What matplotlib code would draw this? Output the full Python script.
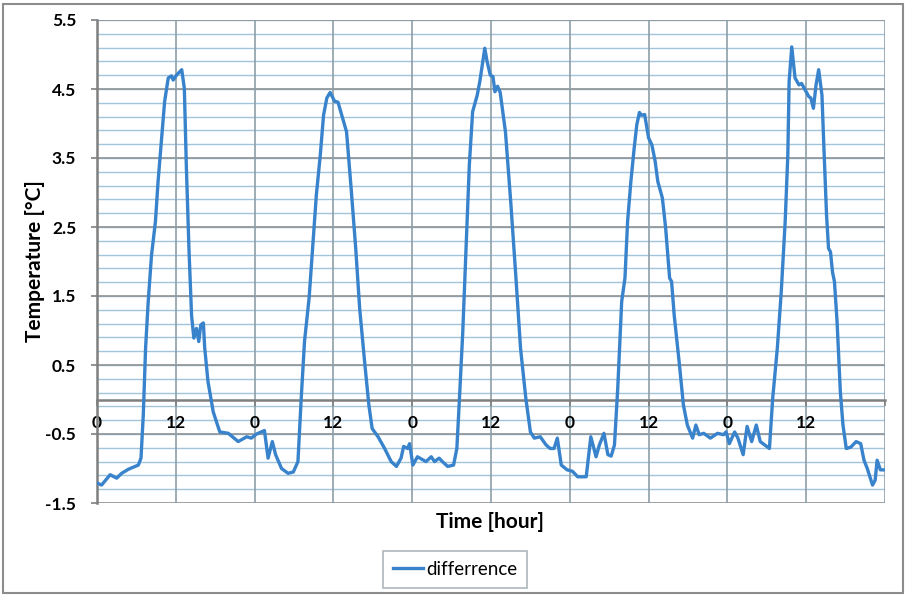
import numpy as np
import matplotlib
matplotlib.use("Agg")
import matplotlib.pyplot as plt
from matplotlib.patches import Rectangle

plt.rcParams['font.family'] = ['Lato', 'DejaVu Sans']

# hours since start
hours = [0.0, 0.7, 2.0, 3.0, 3.75, 4.8, 6.3, 6.7, 7.05, 7.4, 7.8, 8.3, 8.9, 9.3, 9.8,
         10.3, 10.85, 11.35, 11.6, 12.1, 12.9, 13.3, 13.6, 14.0, 14.4, 14.75, 15.15,
         15.5, 15.8, 16.2, 16.4, 16.9, 17.7, 18.7, 20.0, 21.5, 22.8, 23.5, 24.3, 25.5,
         26.05, 26.7, 27.2, 28.1, 29.1, 29.9, 30.6, 31.1, 31.6, 32.3, 32.9, 33.4, 34.0,
         34.5, 35.0, 35.5, 36.2, 36.7, 37.4, 38.0, 38.7, 39.4, 40.0, 40.8, 41.4, 41.9,
         42.8, 43.8, 44.8, 45.6, 46.3, 46.7, 47.3, 47.6, 48.1, 48.8, 50.1, 50.9, 51.4,
         52.1, 52.6, 53.4, 54.3, 54.8, 55.2, 55.7, 56.2, 56.7, 57.2, 57.9, 58.3, 58.7,
         59.05, 59.4, 59.9, 60.3, 60.6, 61.0, 61.4, 62.2, 63.0, 63.8, 64.5, 65.3, 66.0,
         66.6, 67.5, 68.4, 69.0, 69.6, 70.1, 70.7, 71.6, 72.4, 73.2, 74.5, 75.2, 76.0,
         76.5, 77.2, 77.8, 78.3, 78.8, 79.3, 79.9, 80.4, 80.8, 81.3, 81.8, 82.2, 82.6,
         82.9, 83.4, 84.0, 84.5, 85.0, 85.4, 86.1, 86.6, 87.2, 87.5, 87.9, 88.7, 89.3,
         89.9, 90.7, 91.2, 91.7, 92.4, 93.4, 94.5, 95.4, 95.8, 96.3, 97.1, 97.6, 98.4,
         99.0, 99.7, 100.4, 101.0, 101.7, 102.4, 102.9, 103.6, 104.2, 104.8, 105.2,
         105.4, 105.8, 106.3, 106.9, 107.3, 108.4, 108.7, 109.1, 109.5, 109.9, 110.4,
         110.7, 111.1, 111.4, 111.7, 112.0, 112.3, 112.7, 113.2, 113.6, 114.1, 114.8,
         115.6, 116.3, 116.8, 117.3, 118.1, 118.5, 118.8, 119.3, 119.8]
difference = [-1.21, -1.24, -1.09, -1.14, -1.07, -1.01, -0.95, -0.85, -0.22, 0.75, 1.42,
              2.09, 2.58, 3.16, 3.74, 4.32, 4.66, 4.69, 4.63, 4.70, 4.78, 4.51, 3.40,
              2.19, 1.22, 0.89, 1.03, 0.84, 1.08, 1.11, 0.75, 0.26, -0.18, -0.47, -0.49,
              -0.61, -0.54, -0.56, -0.50, -0.45, -0.85, -0.61, -0.80, -1.00, -1.07, -1.05,
              -0.90, 0.02, 0.84, 1.47, 2.29, 2.96, 3.54, 4.12, 4.37, 4.45, 4.32, 4.31,
              4.08, 3.88, 3.06, 2.19, 1.32, 0.50, -0.08, -0.42, -0.54, -0.71, -0.90,
              -0.97, -0.85, -0.68, -0.71, -0.64, -0.95, -0.83, -0.90, -0.83, -0.90, -0.85,
              -0.90, -0.97, -0.95, -0.71, 0.02, 0.98, 2.19, 3.40, 4.17, 4.41, 4.61, 4.87,
              5.09, 4.90, 4.70, 4.68, 4.46, 4.54, 4.45, 3.88, 2.87, 1.76, 0.74, 0.02,
              -0.47, -0.56, -0.54, -0.66, -0.71, -0.71, -0.56, -0.95, -1.02, -1.04, -1.12,
              -1.12, -0.54, -0.83, -0.66, -0.49, -0.80, -0.82, -0.66, 0.16, 1.42, 1.76,
              2.58, 3.16, 3.64, 3.98, 4.16, 4.12, 4.13, 3.79, 3.69, 3.45, 3.16, 2.92,
              2.48, 1.76, 1.71, 1.22, 0.50, -0.08, -0.37, -0.56, -0.37, -0.51, -0.49,
              -0.56, -0.49, -0.51, -0.47, -0.64, -0.47, -0.56, -0.80, -0.39, -0.61, -0.37,
              -0.61, -0.66, -0.71, 0.02, 0.74, 1.56, 2.58, 3.54, 4.61, 5.11, 4.66, 4.56,
              4.58, 4.39, 4.37, 4.22, 4.56, 4.78, 4.41, 3.64, 2.67, 2.19, 2.14, 1.85,
              1.71, 1.13, 0.11, -0.37, -0.71, -0.69, -0.61, -0.64, -0.88, -1.00, -1.24,
              -1.17, -0.88, -1.02, -1.02]

x_ticks = np.arange(0, 121, 12)
x_labels = ['0', '12'] * 5 + ['']
y_major = np.arange(-1.5, 5.51, 1.0)
y_minor = np.arange(-1.5, 5.51, 0.2)

fig = plt.figure(figsize=(9.08, 5.97), dpi=100)
ax = fig.add_axes([97 / 908, 1 - 503 / 597, (885 - 97) / 908, (503 - 20) / 597])

# spine position first: moving it resets the tick styling
ax.spines['bottom'].set_position(('data', 0))
ax.spines['bottom'].set_color('#7f7f7f')
ax.spines['bottom'].set_linewidth(1.8)
ax.spines['left'].set_color('#7f7f7f')
ax.spines['left'].set_linewidth(1.8)
ax.spines['top'].set_visible(False)
ax.spines['right'].set_visible(False)

# grid lines (Excel style)
for v in y_minor:
    ax.axhline(v, color='#a3c5dc', lw=1.0, zorder=0)
for v in y_major:
    ax.axhline(v, color='#8f9396', lw=1.2, zorder=0.5)
for v in x_ticks:
    ax.axvline(v, color='#8d9ea8', lw=1.2, zorder=0.5)

ax.plot(hours, difference, color='#3883cc', lw=2.4, label='differrence', zorder=3)

ax.set_xlim(0, 120)
ax.set_ylim(-1.5, 5.5)
ax.set_yticks(y_major)
ax.set_yticklabels([f'{v:.1f}' for v in y_major])
ax.set_xticks(x_ticks)
ax.set_xticklabels(x_labels)
ax.tick_params(axis='y', length=4, width=1.2, color='#7f7f7f', pad=11, labelsize=12.5)
ax.tick_params(axis='x', length=4, width=1.2, color='#7f7f7f', pad=7, labelsize=12.5)
for lbl in ax.get_xticklabels() + ax.get_yticklabels():
    lbl.set_fontweight('bold')

ax.set_ylabel('Temperature [°C]', fontsize=15, fontweight='bold')
ax.yaxis.set_label_coords((45 - 97) / 788, 0.5)
fig.text(490 / 908, 1 - 522 / 597, 'Time [hour]', fontsize=15, fontweight='bold',
         ha='center', va='center')

leg = fig.legend(loc='center', bbox_to_anchor=(455 / 908, 1 - 569.5 / 597), fontsize=13.5,
                 frameon=True, fancybox=False, handlelength=1.6, handletextpad=0.15,
                 borderpad=0.55)
leg.get_frame().set_edgecolor('#9aa6ad')
leg.get_frame().set_linewidth(1.2)

# chart area border
fig.patches.append(Rectangle((3 / 908, 4 / 597), 900 / 908, 589 / 597,
                             transform=fig.transFigure, fill=False,
                             edgecolor='#8c8c8c', lw=1.5))

fig.savefig('out.png', dpi=100)
